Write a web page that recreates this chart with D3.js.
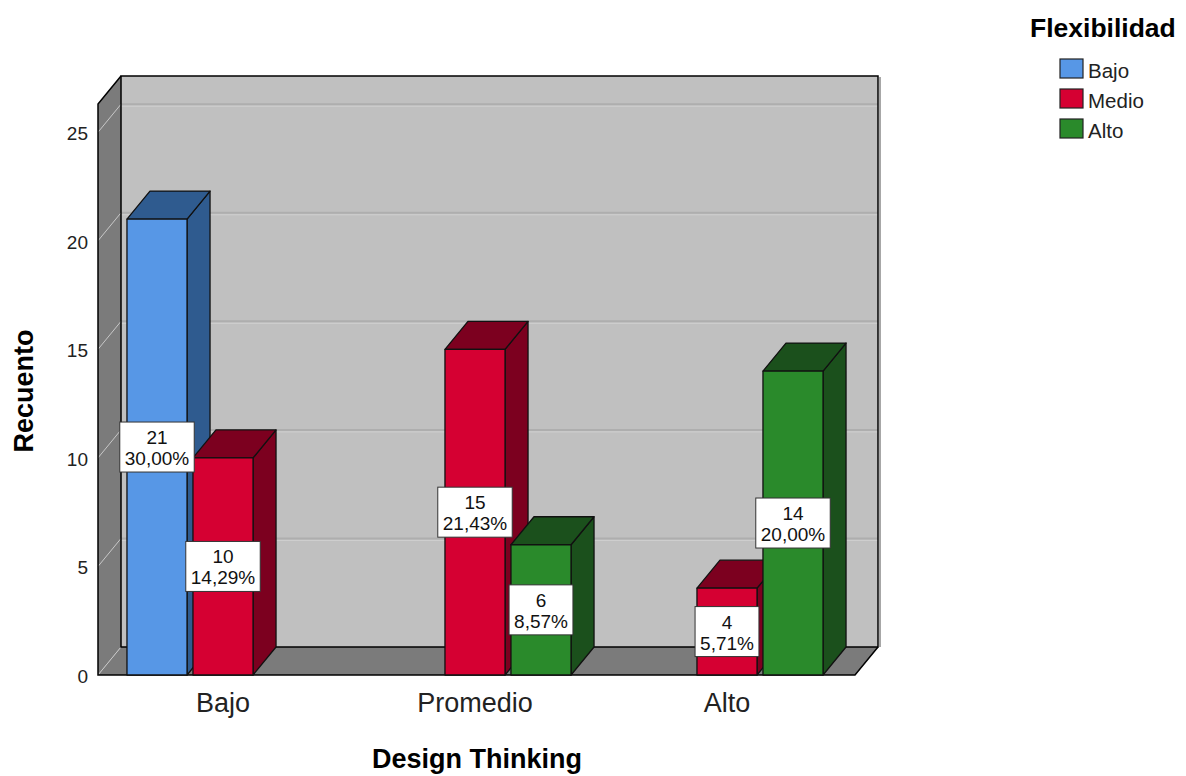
<!DOCTYPE html>
<html>
<head>
<meta charset="utf-8">
<script src="https://cdn.jsdelivr.net/npm/d3@7"></script>
<style>
  body { margin: 0; background: #fff; }
  text { font-family: Arial, "Liberation Sans", sans-serif; }
</style>
</head>
<body>
<div id="chart"></div>
<script>
const categories = ["Bajo", "Promedio", "Alto"];
const seriesNames = ["Bajo", "Medio", "Alto"];
const countsBajo = [21, 0, 0];
const countsMedio = [10, 15, 4];
const countsAlto = [0, 6, 14];
const yTicks = [0, 5, 10, 15, 20, 25];

const frontColors = ["#5797e6", "#d50032", "#2a8a2b"];
const darkColors = ["#2f5b8f", "#7c001f", "#1b501c"];

const width = 1186;
const height = 776;
const depthX = 23;
const depthY = -28;
const floorY = 675;

const svg = d3.select("#chart").append("svg")
  .attr("width", width)
  .attr("height", height);

const y = d3.scaleLinear().domain([0, 26.3]).range([floorY, floorY - 571]);
const x = d3.scaleBand().domain(categories).range([97, 853]);
const xInner = d3.scaleBand().domain(seriesNames)
  .range([x.bandwidth() / 2 - 99, x.bandwidth() / 2 + 99])
  .paddingInner(0.09).paddingOuter(0.045);

const plotLeft = 98, plotRight = 855;
const plotTop = y.range()[1];

// walls
const walls = svg.append("g");
walls.append("polygon")
  .attr("points", [[plotLeft + depthX, plotTop + depthY], [plotRight + depthX, plotTop + depthY], [plotRight + depthX, floorY + depthY], [plotLeft + depthX, floorY + depthY]].join(" "))
  .attr("fill", "#c0c0c0");
walls.append("polygon")
  .attr("points", [[plotLeft, plotTop], [plotLeft + depthX, plotTop + depthY], [plotLeft + depthX, floorY + depthY], [plotLeft, floorY]].join(" "))
  .attr("fill", "#7b7b7b");
walls.append("polygon")
  .attr("points", [[plotLeft, floorY], [plotLeft + depthX, floorY + depthY], [plotRight + depthX, floorY + depthY], [plotRight, floorY]].join(" "))
  .attr("fill", "#7b7b7b");

// gridlines
yTicks.forEach(t => {
  if (t === 0) return;
  walls.append("line")
    .attr("x1", plotLeft + depthX).attr("x2", plotRight + depthX)
    .attr("y1", y(t) + depthY).attr("y2", y(t) + depthY)
    .attr("stroke", "#aeaeae").attr("stroke-width", 2);
  walls.append("line")
    .attr("x1", plotLeft + depthX).attr("x2", plotRight + depthX)
    .attr("y1", y(t) + depthY + 2).attr("y2", y(t) + depthY + 2)
    .attr("stroke", "#cfcfcf").attr("stroke-width", 1);
});
yTicks.forEach(t => {
  walls.append("line")
    .attr("x1", plotLeft).attr("y1", y(t))
    .attr("x2", plotLeft + depthX).attr("y2", y(t) + depthY)
    .attr("stroke", "#c8c8c8").attr("stroke-width", 1);
});

// outlines
walls.append("rect")
  .attr("x", plotLeft + depthX).attr("y", plotTop + depthY)
  .attr("width", plotRight - plotLeft).attr("height", floorY - plotTop)
  .attr("fill", "none").attr("stroke", "#000").attr("stroke-width", 1.5);
walls.append("line")
  .attr("x1", plotRight + depthX + 2).attr("x2", plotRight + depthX + 2)
  .attr("y1", plotTop + depthY + 1).attr("y2", floorY + depthY)
  .attr("stroke", "#8a8a8a").attr("stroke-width", 1.5);
walls.append("polyline")
  .attr("points", [[plotLeft + depthX, plotTop + depthY], [plotLeft, plotTop], [plotLeft, floorY], [plotRight, floorY], [plotRight + depthX, floorY + depthY]].join(" "))
  .attr("fill", "none").attr("stroke", "#000").attr("stroke-width", 1.5);

// bars
const bars = [];
categories.forEach((c, ci) => {
  [countsBajo, countsMedio, countsAlto].forEach((arr, si) => {
    if (arr[ci] > 0) bars.push({ cat: c, s: si, v: arr[ci] });
  });
});
const total = d3.sum(bars, d => d.v);

const barG = svg.append("g");
bars.forEach(d => {
  const x0 = x(d.cat) + xInner(seriesNames[d.s]);
  const x1 = x0 + xInner.bandwidth();
  const yt = y(d.v);
  const g = barG.append("g").attr("stroke", "#111").attr("stroke-width", 1.3).attr("stroke-linejoin", "round");
  g.append("polygon")
    .attr("points", [[x1, yt], [x1 + depthX, yt + depthY], [x1 + depthX, floorY + depthY], [x1, floorY]].join(" "))
    .attr("fill", darkColors[d.s]);
  g.append("polygon")
    .attr("points", [[x0, yt], [x0 + depthX, yt + depthY], [x1 + depthX, yt + depthY], [x1, yt]].join(" "))
    .attr("fill", darkColors[d.s]);
  g.append("rect")
    .attr("x", x0).attr("y", yt)
    .attr("width", x1 - x0).attr("height", floorY - yt)
    .attr("fill", frontColors[d.s]);
});

// value labels
const pct = v => d3.format(".2f")(v / total * 100).replace(".", ",") + "%";
const labG = svg.append("g");
bars.forEach(d => {
  const cx = x(d.cat) + xInner(seriesNames[d.s]) + xInner.bandwidth() / 2;
  const cy = y(d.v / 2);
  const g = labG.append("g").attr("transform", `translate(${cx},${cy})`);
  const rect = g.append("rect").attr("fill", "#fff").attr("stroke", "#333").attr("stroke-width", 1);
  const t1 = g.append("text").attr("text-anchor", "middle").attr("y", -3).attr("font-size", 19).attr("fill", "#111").text(d.v);
  const t2 = g.append("text").attr("text-anchor", "middle").attr("y", 18).attr("font-size", 19).attr("fill", "#111").text(pct(d.v));
  const w = Math.max(t1.node().getComputedTextLength(), t2.node().getComputedTextLength()) + 10;
  rect.attr("x", -w / 2).attr("y", -25).attr("width", w).attr("height", 50);
});

// y tick labels
svg.append("g").selectAll("text")
  .data(yTicks).enter().append("text")
  .attr("x", 88).attr("y", d => y(d) + 8)
  .attr("text-anchor", "end").attr("font-size", 19).attr("fill", "#222")
  .text(d => d);

// x tick labels
svg.append("g").selectAll("text")
  .data(categories).enter().append("text")
  .attr("x", d => x(d) + x.bandwidth() / 2)
  .attr("y", 712)
  .attr("text-anchor", "middle").attr("font-size", 27).attr("fill", "#222")
  .text(d => d);

svg.append("text")
  .attr("x", 477).attr("y", 768)
  .attr("text-anchor", "middle").attr("font-size", 27).attr("font-weight", "bold")
  .text("Design Thinking");

svg.append("text")
  .attr("transform", "translate(33,391) rotate(-90)")
  .attr("text-anchor", "middle").attr("font-size", 27).attr("font-weight", "bold")
  .text("Recuento");

// legend
const legend = svg.append("g");
legend.append("text")
  .attr("x", 1030).attr("y", 37)
  .attr("font-size", 26.5).attr("font-weight", "bold")
  .text("Flexibilidad");
seriesNames.forEach((s, i) => {
  legend.append("rect")
    .attr("x", 1060).attr("y", 59 + i * 30)
    .attr("width", 23).attr("height", 19)
    .attr("fill", frontColors[i]).attr("stroke", "#222").attr("stroke-width", 1.2);
  legend.append("text")
    .attr("x", 1088).attr("y", 78 + i * 30)
    .attr("font-size", 20.5).attr("fill", "#222")
    .text(s);
});
</script>
</body>
</html>
